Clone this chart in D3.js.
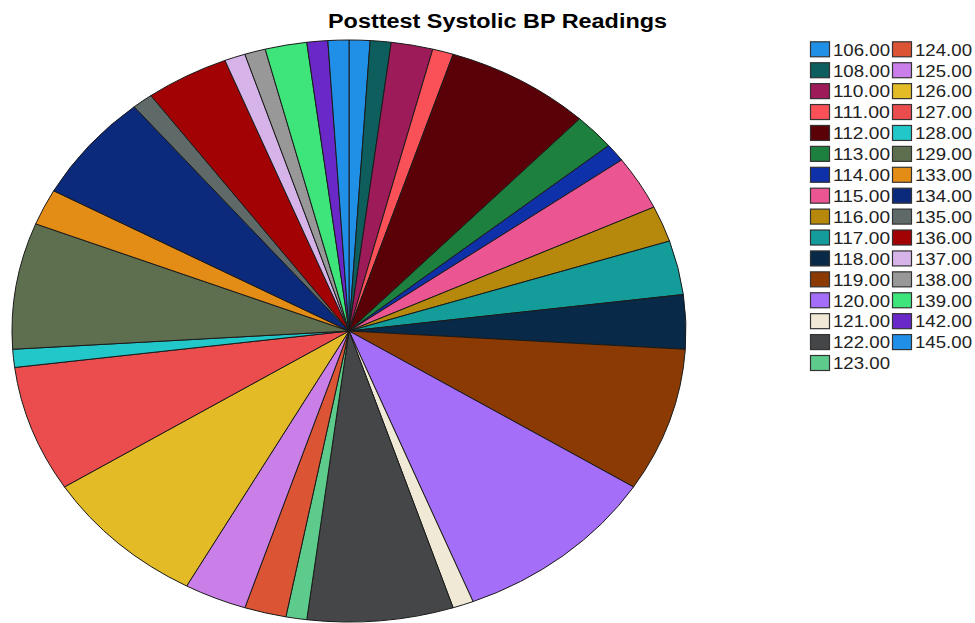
<!DOCTYPE html>
<html>
<head>
<meta charset="utf-8">
<script src="https://cdn.jsdelivr.net/npm/d3@7"></script>
<style>
  html, body { margin: 0; padding: 0; background: #fff; }
  svg { display: block; }
</style>
</head>
<body>
<svg id="chart" width="975" height="623"></svg>
<script>
const title = "Posttest Systolic BP Readings";
const categories = ["106.00","108.00","110.00","111.00","112.00","113.00","114.00","115.00","116.00","117.00","118.00","119.00","120.00","121.00","122.00","123.00","124.00","125.00","126.00","127.00","128.00","129.00","133.00","134.00","135.00","136.00","137.00","138.00","139.00","142.00","145.00"];
const counts = [1,1,2,1,7,2,1,3,2,3,3,8,10,1,7,1,2,3,8,7,1,7,2,6,1,4,1,1,2,1,1];
const colors = ["#1f90e6","#0d5e5c","#9c1b58","#fa5159","#5a0108","#1e803f","#0e30a8","#ea5592","#b6880b","#139c9a","#082a48","#8a3a02","#a56ef8","#efe9d6","#444648","#5ccb8b","#db5534","#c97ee8","#e3bb26","#eb4c4d","#22c7c9","#5e6f4f","#e38c16","#0c2a7c","#5f6a68","#a30205","#d6b3e8","#989898","#3de57b","#6b28c9","#1f8fe8"];

const svg = d3.select("#chart");

const cx = 349, cy = 331, rx = 337, ry = 291;

const pie = d3.pie().sort(null).value(d => d).startAngle(0).endAngle(2 * Math.PI);
const arc = d3.arc().innerRadius(0).outerRadius(ry);

const g = svg.append("g")
  .attr("transform", `translate(${cx},${cy}) scale(${rx / ry},1)`);

g.selectAll("path")
  .data(pie(counts))
  .join("path")
  .attr("d", arc)
  .attr("fill", (d, i) => colors[i])
  .attr("stroke", "#1a1a1a")
  .attr("stroke-width", 1)
  .attr("vector-effect", "non-scaling-stroke");

svg.append("text")
  .attr("x", 328)
  .attr("y", 28)
  .attr("font-family", "Liberation Sans, Arial, sans-serif")
  .attr("font-weight", "bold")
  .attr("font-size", 20)
  .attr("textLength", 339)
  .attr("lengthAdjust", "spacingAndGlyphs")
  .attr("fill", "#000")
  .text(title);

// Legend
const rowsPerCol = 16;
const rowY = d3.scaleLinear().domain([0, 15]).range([49.3, 363]);
const colX = [810, 892];

const leg = svg.append("g");
const items = leg.selectAll("g")
  .data(categories)
  .join("g")
  .attr("transform", (d, i) => `translate(${colX[Math.floor(i / rowsPerCol)]},${rowY(i % rowsPerCol)})`);

items.append("rect")
  .attr("x", 0.5)
  .attr("y", -7.5)
  .attr("width", 19)
  .attr("height", 15)
  .attr("fill", (d, i) => colors[i])
  .attr("stroke", "#333")
  .attr("stroke-width", 1.2);

items.append("text")
  .attr("x", 23)
  .attr("y", 6.3)
  .attr("font-family", "Liberation Sans, Arial, sans-serif")
  .attr("font-size", 17)
  .attr("textLength", 57)
  .attr("lengthAdjust", "spacingAndGlyphs")
  .attr("fill", "#222")
  .text(d => d);
</script>
</body>
</html>
